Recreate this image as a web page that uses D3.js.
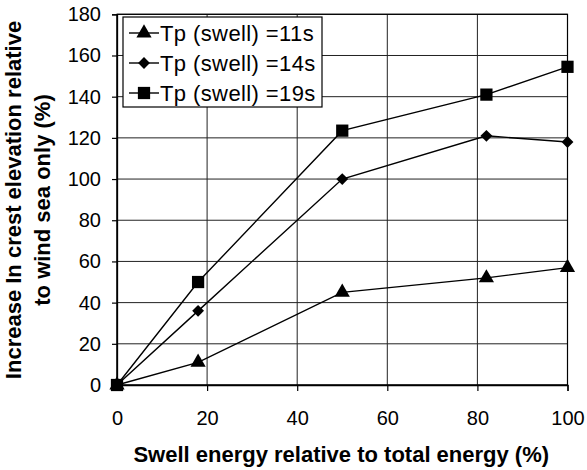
<!DOCTYPE html>
<html><head><meta charset="utf-8">
<script src="https://cdn.jsdelivr.net/npm/d3@7"></script>
<style>
body{margin:0;background:#fff;}
svg{display:block;font-family:"Liberation Sans",Arial,sans-serif;}
</style></head>
<body><svg id="c" width="587" height="470"></svg>
<script>
const xValues = [0, 18, 50, 82, 100];
const seriesNames = ["Tp (swell) =11s", "Tp (swell) =14s", "Tp (swell) =19s"];
const tp11 = [0, 11, 45, 52, 57];
const tp14 = [0, 36, 100, 121, 118];
const tp19 = [0, 50, 123.5, 141, 154.5];
const xTicks = [0, 20, 40, 60, 80, 100];
const yTicks = [0, 20, 40, 60, 80, 100, 120, 140, 160, 180];
const markerTypes = [d3.symbolTriangle, d3.symbolSquare, d3.symbolSquare];
const markerSizes = [100, 70, 150];
const markerRot = [0, 45, 0];

const svg = d3.select("#c");
const L = 117, R = 567.5, T = 14.3, B = 385;
const x = d3.scaleLinear().domain([0, 100]).range([L, R]);
const y = d3.scaleLinear().domain([0, 180]).range([B, T]);

// gridlines
const g = svg.append("g");
g.selectAll(".hg").data(yTicks).join("line")
  .attr("x1", L).attr("x2", R).attr("y1", d => y(d)).attr("y2", d => y(d))
  .attr("stroke", "#222").attr("stroke-width", 1);
g.selectAll(".vg").data(xTicks).join("line")
  .attr("y1", T).attr("y2", B).attr("x1", d => x(d)).attr("x2", d => x(d))
  .attr("stroke", "#222").attr("stroke-width", 1);

// axes
const xAxis = svg.append("g").attr("transform", `translate(0,${B})`)
  .call(d3.axisBottom(x).tickValues(xTicks).tickSize(6).tickPadding(20).tickFormat(d3.format("d")));
const yAxis = svg.append("g").attr("transform", `translate(${L},0)`)
  .call(d3.axisLeft(y).tickValues(yTicks).tickSize(5).tickPadding(11).tickFormat(d3.format("d")));
[xAxis, yAxis].forEach(a => {
  a.select(".domain").attr("stroke", "#000").attr("stroke-width", 1.3);
  a.selectAll(".tick line").attr("stroke", "#000").attr("stroke-width", 1.2);
  a.selectAll("text").attr("font-size", 20).attr("fill", "#000")
    .attr("font-family", "Liberation Sans, Arial, sans-serif");
});
// border top/right
svg.append("rect").attr("x", L).attr("y", T).attr("width", R - L).attr("height", B - T)
  .attr("fill", "none").attr("stroke", "#000").attr("stroke-width", 1.2);

// series
const all = [tp11, tp14, tp19];
const line = d3.line().x((d, i) => x(xValues[i])).y(d => y(d));
all.forEach((s, k) => {
  svg.append("path").datum(s).attr("d", line)
    .attr("fill", "none").attr("stroke", "#000").attr("stroke-width", 1.4);
  svg.selectAll(null).data(s).join("path")
    .attr("transform", (d, i) => `translate(${x(xValues[i])},${y(d)}) rotate(${markerRot[k]})`)
    .attr("d", d3.symbol().type(markerTypes[k]).size(markerSizes[k]))
    .attr("fill", "#000");
});

// legend
const lg = svg.append("g");
lg.append("rect").attr("x", 123).attr("y", 17).attr("width", 199).attr("height", 90)
  .attr("fill", "#fff").attr("stroke", "#000").attr("stroke-width", 1.2);
seriesNames.forEach((n, k) => {
  const yy = 33 + k * 30;
  lg.append("line").attr("x1", 129).attr("x2", 159).attr("y1", yy).attr("y2", yy)
    .attr("stroke", "#000").attr("stroke-width", 1.4);
  lg.append("path").attr("transform", `translate(144,${yy}) rotate(${markerRot[k]})`)
    .attr("d", d3.symbol().type(markerTypes[k]).size(markerSizes[k])).attr("fill", "#000");
  lg.append("text").attr("x", 160).attr("y", yy + 7.5).attr("font-size", 22)
    .attr("letter-spacing", 0.4).text(n);
});

// axis titles
svg.append("text").attr("x", (L + R) / 2 - 1).attr("y", 462).attr("text-anchor", "middle")
  .attr("font-size", 22).attr("font-weight", "bold").text("Swell energy relative to total energy (%)");
const yt = svg.append("text").attr("transform", "translate(0,200) rotate(-90)")
  .attr("text-anchor", "middle").attr("font-size", 22).attr("font-weight", "bold");
yt.append("tspan").attr("x", 0).attr("y", 21).text("Increase In crest elevation relative");
yt.append("tspan").attr("x", 0).attr("y", 50).text("to wind sea only (%)");
</script></body></html>
